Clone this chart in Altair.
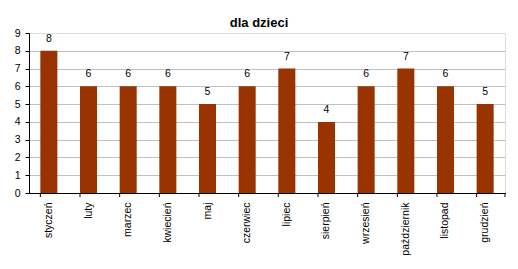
import altair as alt
import pandas as pd

months = ["styczeń", "luty", "marzec", "kwiecień", "maj", "czerwiec",
          "lipiec", "sierpień", "wrzesień", "październik", "listopad", "grudzień"]
values = [8, 6, 6, 6, 5, 6, 7, 4, 6, 7, 6, 5]
y_ticks = [0, 1, 2, 3, 4, 5, 6, 7, 8, 9]

df = pd.DataFrame({"month": months, "value": values})
FONT = "Liberation Sans"

xscale = alt.Scale(domain=months, paddingInner=0.571, paddingOuter=0.286)
yscale = alt.Scale(domain=[0, 9], nice=False)

xaxis = alt.Axis(labelAngle=-90, labelAlign="right", labelBaseline="middle",
                 labelPadding=9, ticks=False, labelFont=FONT, labelFontSize=10.5,
                 labelColor="black", domainColor="black", labelLimit=200)
yaxis = alt.Axis(values=y_ticks, tickSize=4, labelPadding=5, labelOverlap=False,
                 labelFlush=False,
                 labelFont=FONT, labelFontSize=10.5, labelColor="black",
                 domainColor="black", tickColor="black", gridColor="#c0c0c0",
                 gridOpacity=alt.condition("datum.value == 9", alt.value(0), alt.value(1)))

X = alt.X("month:N", sort=months, scale=xscale, title=None, axis=xaxis)
Y = alt.Y("value:Q", scale=yscale, title=None, axis=yaxis)

base = alt.Chart(df)

bars = base.mark_bar(color="#993300").encode(x=X, y=Y)

labels = base.mark_text(baseline="alphabetic", dy=-9, font=FONT, fontSize=10.5,
                        color="black").encode(x=X, y=Y, text="value:Q")

ticks = base.mark_rule(color="black").encode(
    x=alt.X("month:N", sort=months, scale=xscale, bandPosition=0, axis=xaxis, title=None),
    y=alt.value(160),
    y2=alt.value(164),
)
endtick = alt.Chart(pd.DataFrame({"a": [0]})).mark_rule(color="black").encode(
    x=alt.value(476), y=alt.value(160), y2=alt.value(164))

chart = alt.layer(bars, labels, ticks, endtick).properties(
    width=476, height=160,
    autosize=alt.AutoSizeParams(type="none"),
    padding={"left": 29, "top": 33, "right": 13, "bottom": 76},
    title=alt.TitleParams("dla dzieci", font=FONT, fontSize=13, fontWeight="bold",
                          color="black", anchor="middle", baseline="alphabetic",
                          offset=7, dx=-8, dy=19),
).configure_view(stroke=None).configure(background="white")

chart.save("out.html", embed_options={"renderer": "svg", "actions": False})
